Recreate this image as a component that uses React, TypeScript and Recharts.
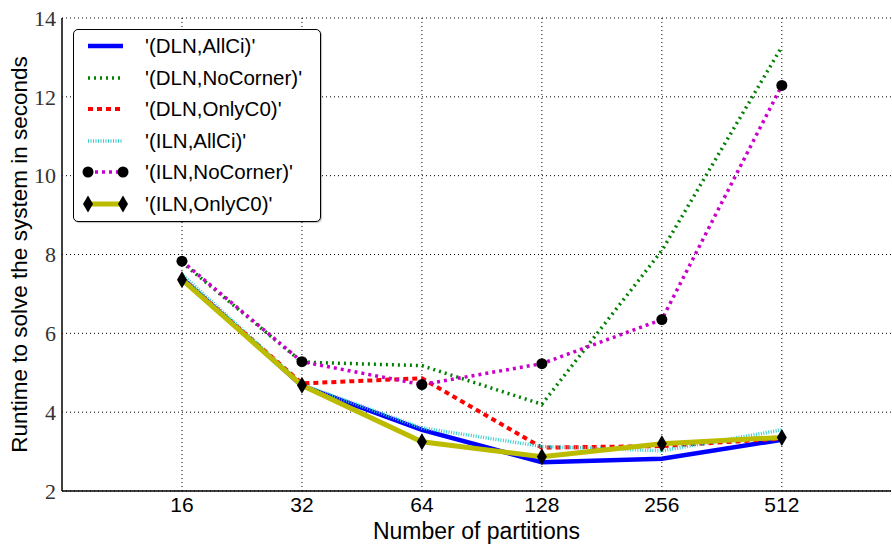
import React from "react";
import {
  LineChart,
  Line,
  XAxis,
  YAxis,
  CartesianGrid,
} from "recharts";

const partitions = ["16", "32", "64", "128", "256", "512"];
const dlnAllCi = [7.4, 4.67, 3.55, 2.73, 2.82, 3.3];
const dlnNoCorner = [7.8, 5.27, 5.18, 4.2, 8.1, 13.27];
const dlnOnlyC0 = [7.4, 4.73, 4.86, 3.1, 3.14, 3.33];
const ilnAllCi = [7.5, 4.7, 3.6, 3.13, 3.02, 3.55];
const ilnNoCorner = [7.83, 5.28, 4.7, 5.23, 6.35, 12.29];
const ilnOnlyC0 = [7.36, 4.68, 3.25, 2.87, 3.2, 3.36];
const yTicks = [2, 4, 6, 8, 10, 12, 14];

const data = partitions.map((p, i) => ({
  x: i + 1,
  dlnAllCi: dlnAllCi[i],
  dlnNoCorner: dlnNoCorner[i],
  dlnOnlyC0: dlnOnlyC0[i],
  ilnAllCi: ilnAllCi[i],
  ilnNoCorner: ilnNoCorner[i],
  ilnOnlyC0: ilnOnlyC0[i],
}));

type Marker = "none" | "circle" | "diamond";

const series = [
  { key: "dlnAllCi", name: "'(DLN,AllCi)'", color: "#0000ff", width: 4.5, dash: undefined, marker: "none" as Marker },
  { key: "dlnNoCorner", name: "'(DLN,NoCorner)'", color: "#008000", width: 3.5, dash: "2 4", marker: "none" as Marker },
  { key: "dlnOnlyC0", name: "'(DLN,OnlyC0)'", color: "#ff0000", width: 4, dash: "5 4", marker: "none" as Marker },
  { key: "ilnAllCi", name: "'(ILN,AllCi)'", color: "#33cccc", width: 3.5, dash: "1 1.5", marker: "none" as Marker },
  { key: "ilnNoCorner", name: "'(ILN,NoCorner)'", color: "#cc00cc", width: 3.5, dash: "3 4", marker: "circle" as Marker },
  { key: "ilnOnlyC0", name: "'(ILN,OnlyC0)'", color: "#bbbb00", width: 5, dash: undefined, marker: "diamond" as Marker },
];

const sans = "'Liberation Sans', Arial, sans-serif";
const serif = "'Liberation Serif', 'DejaVu Serif', serif";

function drawMarker(marker: Marker, cx: number, cy: number, key?: string) {
  if (marker === "circle") {
    return <circle key={key} cx={cx} cy={cy} r={5.5} fill="#000" />;
  }
  if (marker === "diamond") {
    return (
      <path
        key={key}
        d={`M${cx},${cy - 8.5} L${cx + 5},${cy} L${cx},${cy + 8.5} L${cx - 5},${cy} Z`}
        fill="#000"
      />
    );
  }
  return <g key={key} />;
}

function LegendBox() {
  return (
    <div
      style={{
        position: "absolute",
        left: 73,
        top: 29,
        width: 248,
        height: 193,
        border: "1px solid #000",
        borderRadius: 5,
        background: "#fff",
        boxShadow: "1px 1px 1px rgba(0,0,0,0.25)",
        boxSizing: "border-box",
      }}
    >
      {series.map((s, i) => (
        <div
          key={s.key}
          style={{ position: "absolute", left: 0, top: 2 + i * 31.6, height: 28, display: "flex", alignItems: "center" }}
        >
          <svg width={64} height={28} style={{ display: "block" }}>
            <line
              x1={14}
              x2={49}
              y1={14}
              y2={14}
              stroke={s.color}
              strokeWidth={s.width}
              strokeDasharray={s.dash}
            />
            {s.marker !== "none" && drawMarker(s.marker, 14, 14, "a")}
            {s.marker !== "none" && drawMarker(s.marker, 49, 14, "b")}
          </svg>
          <span style={{ fontFamily: sans, fontSize: 20.5, marginLeft: 7, color: "#000", whiteSpace: "nowrap" }}>
            {s.name}
          </span>
        </div>
      ))}
    </div>
  );
}

export default function App() {
  return (
    <div style={{ position: "absolute", left: 0, top: 0, width: 892, height: 544, background: "#fff" }}>
      <LineChart
        width={892}
        height={544}
        data={data}
        margin={{ top: 18, right: 1, bottom: 0, left: 0 }}
      >
        <CartesianGrid
          stroke="#000"
          strokeDasharray="1 3"
          strokeWidth={1}
          horizontalValues={yTicks}
          verticalValues={[1, 2, 3, 4, 5, 6]}
        />
        <XAxis
          dataKey="x"
          type="number"
          domain={[0, 6.91]}
          ticks={[1, 2, 3, 4, 5, 6]}
          tickFormatter={(v: number) => partitions[v - 1]}
          height={53}
          stroke="#000"
          strokeWidth={1.5}
          tickLine={false}
          tick={{ fontFamily: sans, fontSize: 21, fill: "#000" }}
          tickMargin={0}
          label={{
            value: "Number of partitions",
            position: "insideBottom",
            offset: 5,
            style: { fontFamily: sans, fontSize: 23, fill: "#000" },
          }}
        />
        <XAxis xAxisId="top" orientation="top" dataKey="x" type="number" domain={[0, 6.91]} height={0} tick={false} tickLine={false} stroke="#444" strokeWidth={1.5} />
        <YAxis
          type="number"
          domain={[2, 14]}
          ticks={yTicks}
          width={62}
          stroke="#000"
          strokeWidth={1.5}
          tickLine={false}
          tickMargin={0}
          tick={{ fontFamily: serif, fontSize: 22, fill: "#333" }}
          label={{
            value: "Runtime to solve the system in seconds",
            angle: -90,
            position: "insideLeft",
            offset: 19,
            style: { textAnchor: "middle", fontFamily: sans, fontSize: 22.5, fill: "#000" },
          }}
        />
        <YAxis yAxisId="right" orientation="right" domain={[2, 14]} width={0} tick={false} tickLine={false} stroke="#444" />
        {series.map((s) => (
          <Line
            key={s.key}
            dataKey={s.key}
            name={s.name}
            type="linear"
            stroke={s.color}
            strokeWidth={s.width}
            strokeDasharray={s.dash}
            isAnimationActive={false}
            dot={
              s.marker === "none"
                ? false
                : (p: any) => drawMarker(s.marker, p.cx, p.cy, `${s.key}-${p.index}`)
            }
            activeDot={false}
          />
        ))}
      </LineChart>
      <LegendBox />
    </div>
  );
}
